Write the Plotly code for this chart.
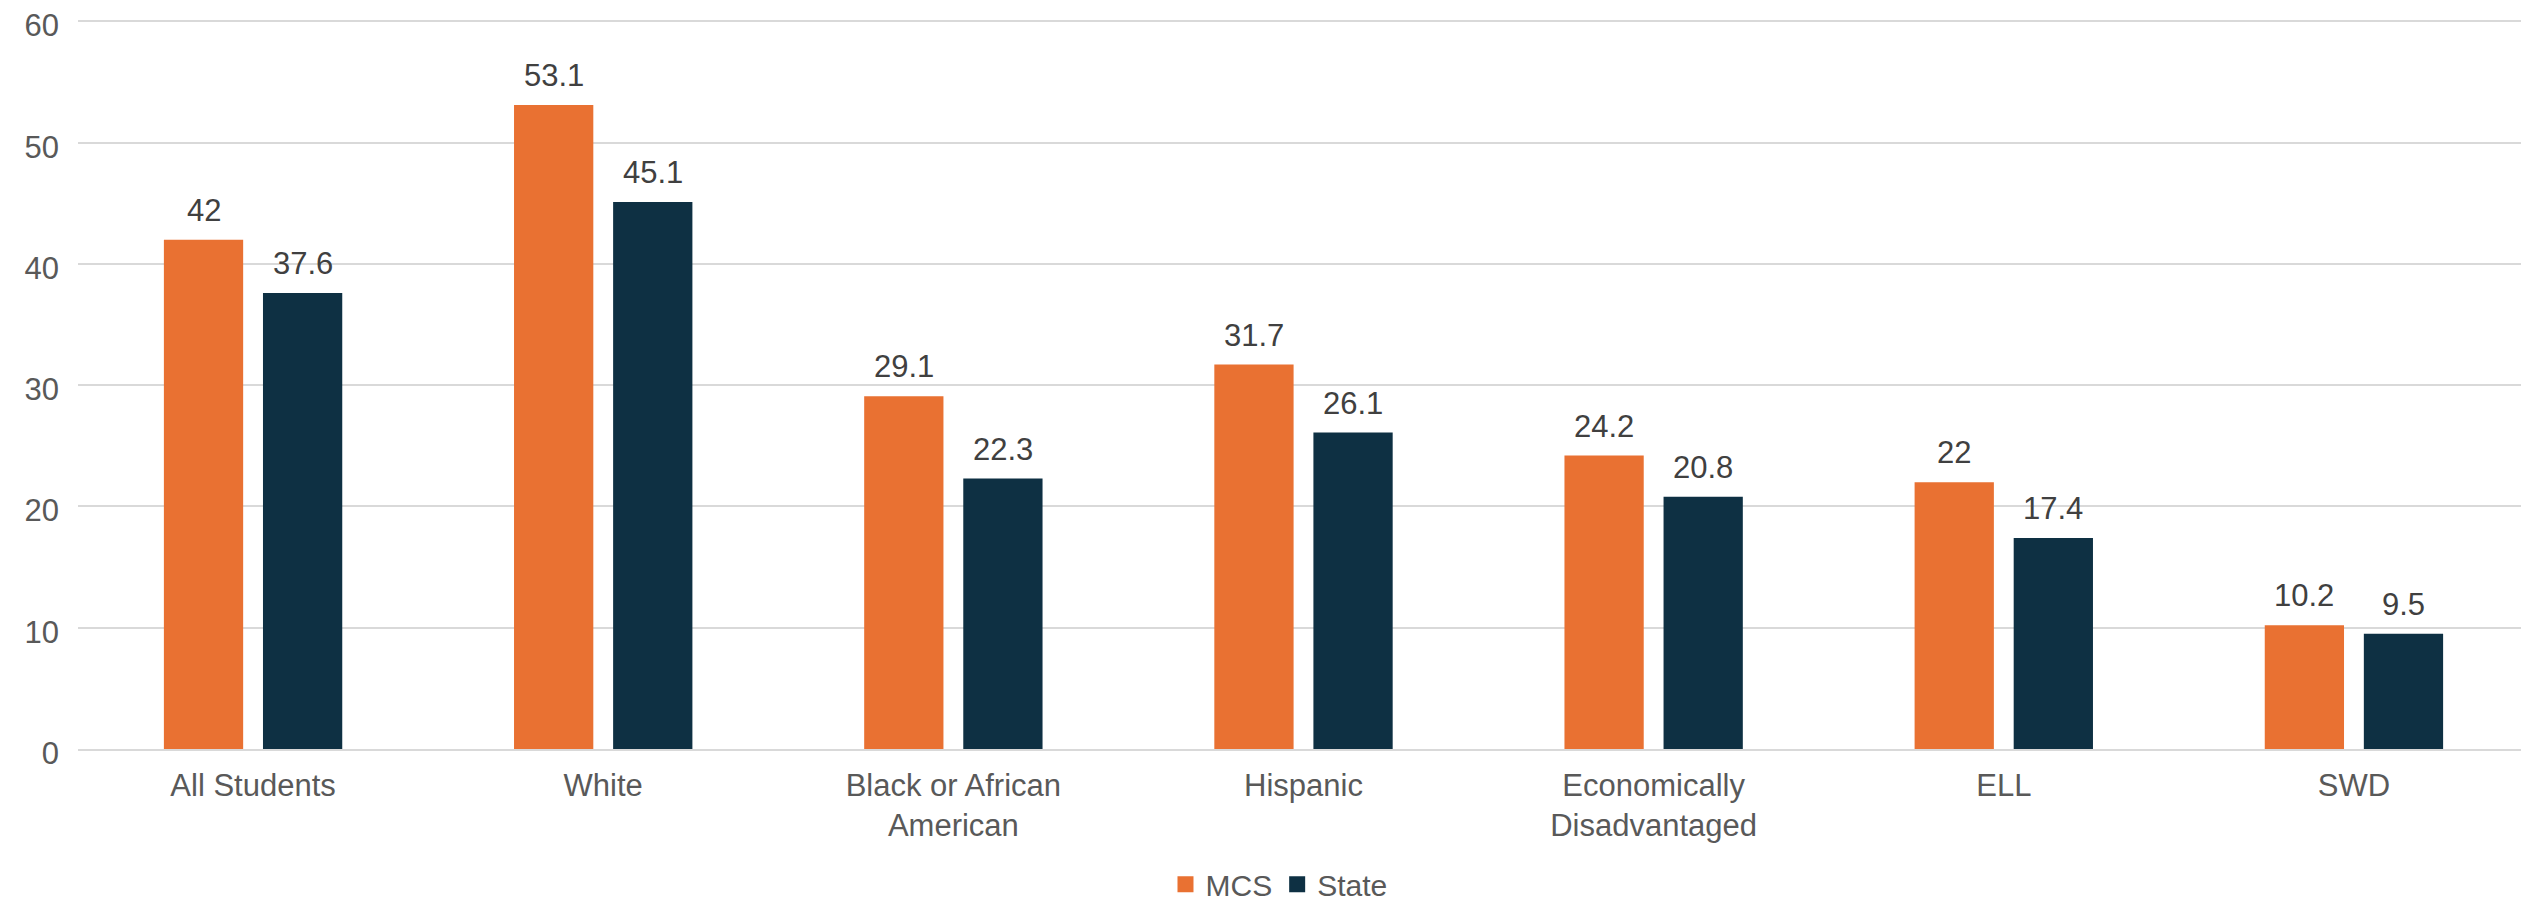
import plotly.graph_objects as go

categories = ["All Students", "White", "Black or African<br>American", "Hispanic",
              "Economically<br>Disadvantaged", "ELL", "SWD"]
mcs_values = [42, 53.1, 29.1, 31.7, 24.2, 22, 10.2]
state_values = [37.6, 45.1, 22.3, 26.1, 20.8, 17.4, 9.5]
y_ticks = [0, 10, 20, 30, 40, 50, 60]

ORANGE = "#E97132"
NAVY = "#0E3043"
FONT = "Liberation Sans, Arial, sans-serif"

fig = go.Figure()
fig.add_trace(go.Bar(name="MCS", x=categories, y=mcs_values, marker_color=ORANGE,
                     marker_line_width=0, showlegend=False, hoverinfo="x+y"))
fig.add_trace(go.Bar(name="State", x=categories, y=state_values, marker_color=NAVY,
                     marker_line_width=0, showlegend=False, hoverinfo="x+y"))
# legend entries with larger square swatches
for name, col in (("MCS", ORANGE), ("State", NAVY)):
    fig.add_trace(go.Scatter(name=name, x=[None], y=[None], mode="markers",
                             marker=dict(symbol="square", size=19, color=col),
                             showlegend=True))

# value labels above bars
for vals, shift in ((mcs_values, -49.5), (state_values, 49.5)):
    for c, v in zip(categories, vals):
        fig.add_annotation(x=c, y=v, text=f"{v:g}", showarrow=False, xshift=shift,
                           yanchor="bottom", yshift=10,
                           font=dict(family=FONT, size=31, color="#404040"))

# page body has an 8px default margin, so the figure is 8px smaller than the window
fig.update_layout(
    width=2521, height=896,
    margin=dict(l=70, r=0, t=10.5, b=155, autoexpand=False),
    paper_bgcolor="white", plot_bgcolor="white",
    barmode="group", bargap=0.434, bargroupgap=0.2,
    font=dict(family=FONT, size=31, color="#595959"),
    legend=dict(orientation="h", x=0.49, xanchor="center",
                yref="container", y=0.022, yanchor="middle",
                font=dict(family=FONT, size=30, color="#595959"),
                itemwidth=30, tracegroupgap=0),
    showlegend=True,
)
fig.update_yaxes(range=[0, 60.2], tickvals=y_ticks, showgrid=True, gridcolor="#D9D9D9",
                 gridwidth=1.5, zeroline=False, showline=False, ticks="",
                 ticklabelstandoff=18, ticklabelshift=4, automargin=False,
                 ticklabeloverflow="allow",
                 tickfont=dict(family=FONT, size=31, color="#595959"))
fig.update_xaxes(showgrid=False, showline=True, linecolor="#D9D9D9", linewidth=1.5,
                 ticks="", tickfont=dict(family=FONT, size=31, color="#595959"),
                 ticklabelstandoff=8, automargin=False)

fig.write_html("out.html")
